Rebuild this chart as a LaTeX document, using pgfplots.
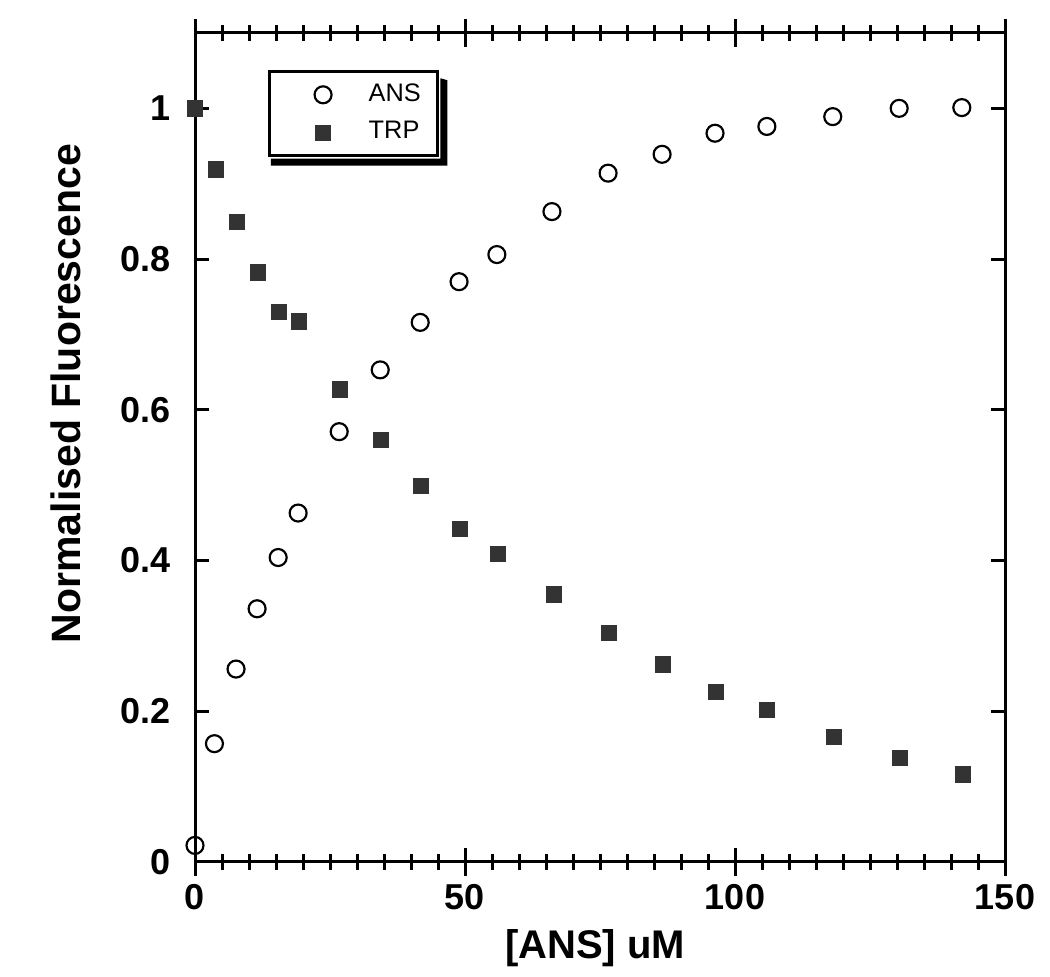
\documentclass[border=0pt]{standalone}
\usepackage{pgfplots}
\pgfplotsset{compat=1.18}
\usepackage{fontspec}
\setmainfont{Liberation Sans}
\definecolor{sq}{HTML}{333333}
\begin{document}
\begin{tikzpicture}
\pgfplotsset{
  common/.style={scale only axis, width=243pt, height=248.7pt,
    xmin=0, xmax=150, ymin=0, ymax=1.1,
    axis line style={line width=0.9pt},
    every tick/.style={black, line width=0.9pt}},
}
% x ticks (centered on both x axes)
\begin{axis}[common,
  xtick={0,50,100,150}, minor x tick num=9,
  xticklabels={}, ytick=\empty,
  tick align=center, major tick length=8.4pt, minor tick length=4.6pt]
\end{axis}
% main axis
\begin{axis}[common,
  xtick={0,50,100,150}, ytick={0,0.2,0.4,0.6,0.8,1},
  major x tick style={draw=none}, minor x tick num=0,
  ytick pos=both, tick align=inside, major tick length=4.2pt,
  /pgf/number format/assume math mode=true,
  tick label style={font=\fontsize{10.8}{12}\selectfont\bfseries},
  yticklabel style={xshift=-3.8pt},
  xticklabel style={yshift=-3.2pt},
  every axis y label/.style={at={(axis description cs:-0.159,0.565)}, rotate=90, anchor=center},
  every axis x label/.style={at={(axis description cs:0.494,-0.1041)}, anchor=center},
  y label style={font=\fontsize{12.3}{14}\selectfont\bfseries},
  x label style={font=\fontsize{12}{14}\selectfont\bfseries},
  xlabel={[ANS] uM}, ylabel={Normalised Fluorescence},
  clip=false,
  legend cell align=left,
  legend image code/.code={\path[draw=none] (-13.6pt,-2.5pt) rectangle (11.2pt,2.5pt); \draw[#1] plot coordinates {(0pt,0pt)};},
  legend style={at={(axis description cs:0.090,0.955)}, anchor=north west,
    name=leg,
    draw=black, line width=0.9pt, fill=white,
    font=\fontsize{7.6}{9}\selectfont,
    inner xsep=2.5pt, inner ysep=2.5pt, row sep=2.6pt,
    nodes={inner xsep=2.5pt, inner ysep=1pt}},
]
\addplot[only marks, mark=o, mark size=2.55pt, line width=0.65pt, black] coordinates {
(0,0.022) (3.6,0.157) (7.6,0.256) (11.5,0.336) (15.4,0.404) (19.1,0.463)
(26.7,0.571) (34.3,0.653) (41.7,0.716) (48.9,0.770) (55.9,0.806) (66.1,0.863)
(76.5,0.914) (86.5,0.939) (96.3,0.967) (105.9,0.976) (118.1,0.989) (130.4,1.000) (142.0,1.001)
};
\addlegendentry{ANS}
\addplot[only marks, mark=square*, mark size=2.3pt, sq, mark options={fill=sq, draw=sq, line width=0pt}] coordinates {
(0,1.000) (3.9,0.919) (7.8,0.849) (11.7,0.782) (15.6,0.730) (19.3,0.717)
(26.9,0.627) (34.4,0.560) (41.9,0.499) (49.1,0.442) (56.1,0.409) (66.5,0.355)
(76.7,0.304) (86.7,0.262) (96.5,0.226) (105.9,0.202) (118.3,0.166) (130.6,0.138) (142.2,0.116)
};
\addlegendentry{TRP}
\coordinate (bl) at (rel axis cs:0,0);
\coordinate (tr) at (rel axis cs:1,1);
\end{axis}
% legend drop shadow: right and bottom strips
\fill[black] ([xshift=0.45pt]leg.north east) ++(0,-2.4pt) -- ++(2.1pt,-0.6pt) |- ([xshift=1.5pt,yshift=-2.6pt]leg.south west) -- ++(-0.6pt,0) -- ++(0,2.1pt) -| cycle;
\path (bl) ++(-58.5pt,-34.5pt) coordinate (A);
\path (tr) ++(13.5pt,9.9pt) coordinate (B);
\pgfresetboundingbox
\path[use as bounding box] (A) rectangle (B);
\end{tikzpicture}
\end{document}
